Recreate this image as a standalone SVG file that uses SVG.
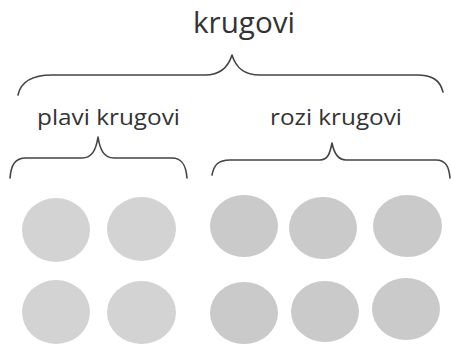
<svg xmlns="http://www.w3.org/2000/svg" width="451" height="344" viewBox="0 0 451 344">
<style>
.t{font-family:"Open Sans","Noto Sans",sans-serif;fill:#333}
.b{fill:none;stroke:#444;stroke-width:1.6;stroke-linecap:round;stroke-linejoin:round}
.blue{fill:#d3d3d3}
.pink{fill:#cacaca}
</style>
<rect width="451" height="344" fill="#fff"/>
<g id="label-krugovi"><text class="t" x="193" y="33" font-size="30" textLength="102" lengthAdjust="spacingAndGlyphs">krugovi</text></g>
<g id="label-plavi"><text class="t" x="37" y="125" font-size="21" textLength="143" lengthAdjust="spacingAndGlyphs">plavi krugovi</text></g>
<g id="label-rozi"><text class="t" x="270" y="125" font-size="21" textLength="132" lengthAdjust="spacingAndGlyphs">rozi krugovi</text></g>
<g id="connectors">
<path class="b" d="M18 95 C21 81 33 75 52 75 L205 75 C220 75 228 68 232 55 C236 68 244 75 260 75 L417 75 C432 75 440 80 443 92"/>
<path class="b" d="M10 178 C11 165 15 158 26 158 L82 158 C92 158 96 150 98 137 C100 150 104 158 114 158 L172 158 C182 158 186 165 187 178"/>
<path class="b" d="M212 175 C214 165 218 160 230 160 L320 160 C328 160 330 153 332 143 C334 153 338 160 346 160 L436 160 C446 160 449 167 450 178"/>
</g>
<g id="blue1"><ellipse class="blue" cx="56" cy="230" rx="34" ry="32"/></g>
<g id="blue2"><ellipse class="blue" cx="141.5" cy="229" rx="34.5" ry="32"/></g>
<g id="blue3"><ellipse class="blue" cx="56" cy="312" rx="34" ry="32"/></g>
<g id="blue4"><ellipse class="blue" cx="141.5" cy="312.5" rx="34.5" ry="31.5"/></g>
<g id="pink1"><ellipse class="pink" cx="244" cy="226" rx="34" ry="31"/></g>
<g id="pink2"><ellipse class="pink" cx="323" cy="228" rx="34" ry="31"/></g>
<g id="pink3"><ellipse class="pink" cx="407.5" cy="226" rx="34.5" ry="31"/></g>
<g id="pink4"><ellipse class="pink" cx="244" cy="313" rx="34" ry="31"/></g>
<g id="pink5"><ellipse class="pink" cx="325" cy="311.5" rx="34" ry="30.5"/></g>
<g id="pink6"><ellipse class="pink" cx="406" cy="309" rx="34" ry="31"/></g>
</svg>
